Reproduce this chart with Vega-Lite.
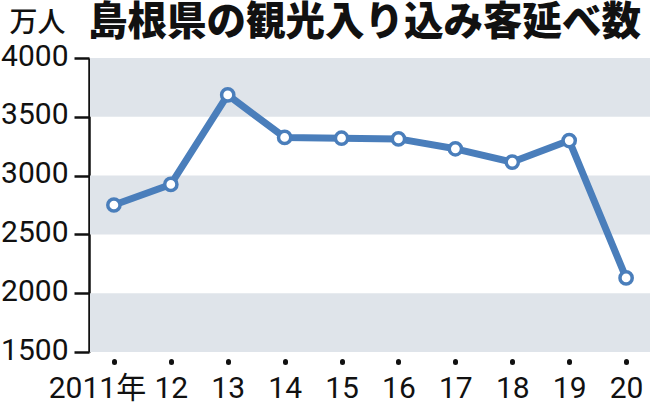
{
  "$schema": "https://vega.github.io/schema/vega-lite/v6.json",
  "autosize": {"type": "none"},
  "padding": {"left": 90, "top": 58, "right": 0, "bottom": 54},
  "width": 560,
  "height": 294,
  "background": "white",
  "config": {"view": {"stroke": null}},
  "title": {
    "text": "島根県の観光入り込み客延べ数",
    "anchor": "start",
    "frame": "group",
    "font": "Noto Sans CJK JP",
    "fontSize": 39.5,
    "fontWeight": 900,
    "color": "#111111",
    "baseline": "alphabetic",
    "offset": -65,
    "dx": -2
  },
  "datasets": {
    "bands": [
      {"from": 1500, "to": 2000},
      {"from": 2500, "to": 3000},
      {"from": 3500, "to": 4000}
    ],
    "visitors": [
      {"year": 2011, "value": 2750},
      {"year": 2012, "value": 2925},
      {"year": 2013, "value": 3686},
      {"year": 2014, "value": 3325},
      {"year": 2015, "value": 3318},
      {"year": 2016, "value": 3312},
      {"year": 2017, "value": 3228},
      {"year": 2018, "value": 3115},
      {"year": 2019, "value": 3298},
      {"year": 2020, "value": 2130}
    ]
  },
  "layer": [
    {
      "data": {"name": "bands"},
      "mark": {"type": "rect", "color": "#dfe4ea"},
      "encoding": {
        "y": {
          "field": "from",
          "type": "quantitative",
          "scale": {"domain": [1500, 4000], "nice": false, "zero": false},
          "axis": {
            "title": "万人",
            "titleFont": "Noto Sans CJK JP",
            "titleFontSize": 28,
            "titleFontWeight": 500,
            "titleColor": "#111111",
            "titleAngle": 0,
            "titleAlign": "left",
            "titleBaseline": "alphabetic",
            "titleX": -80,
            "titleY": -27,
            "values": [1500, 2000, 2500, 3000, 3500, 4000],
            "format": "d",
            "labelFont": "Roboto",
            "labelFontSize": 30,
            "labelColor": "#111111",
            "labelPadding": 6,
            "labelOffset": -2,
            "tickSize": 15,
            "tickWidth": 2.5,
            "tickColor": "#111111",
            "domainColor": "#111111",
            "domainWidth": 2.5,
            "grid": false,
            "offset": 1
          }
        },
        "y2": {"field": "to"}
      }
    },
    {
      "data": {"name": "visitors"},
      "mark": {"type": "line", "color": "#4a7ebb", "strokeWidth": 7, "strokeJoin": "round"},
      "encoding": {
        "x": {
          "field": "year",
          "type": "ordinal",
          "scale": {"type": "point", "padding": 0.42},
          "axis": {
            "title": null,
            "domain": false,
            "labelAngle": 0,
            "labelExpr": "datum.value == 2011 ? '2011年' : slice(toString(datum.value), 2)",
            "labelFont": "Roboto, Noto Sans CJK JP",
            "labelFontSize": 30,
            "labelColor": "#111111",
            "labelOffset": {"condition": {"test": "datum.value == 2011", "value": -17}, "value": 0},
            "labelPadding": 11,
            "tickCap": "round",
            "tickSize": 1,
            "tickWidth": 5,
            "tickColor": "#111111",
            "offset": 9
          }
        },
        "y": {"field": "value", "type": "quantitative"}
      }
    },
    {
      "data": {"name": "visitors"},
      "mark": {"type": "point", "shape": "circle", "filled": true, "fill": "white", "stroke": "#4a7ebb", "strokeWidth": 3.5, "size": 150, "opacity": 1},
      "encoding": {
        "x": {"field": "year", "type": "ordinal"},
        "y": {"field": "value", "type": "quantitative"}
      }
    }
  ]
}
